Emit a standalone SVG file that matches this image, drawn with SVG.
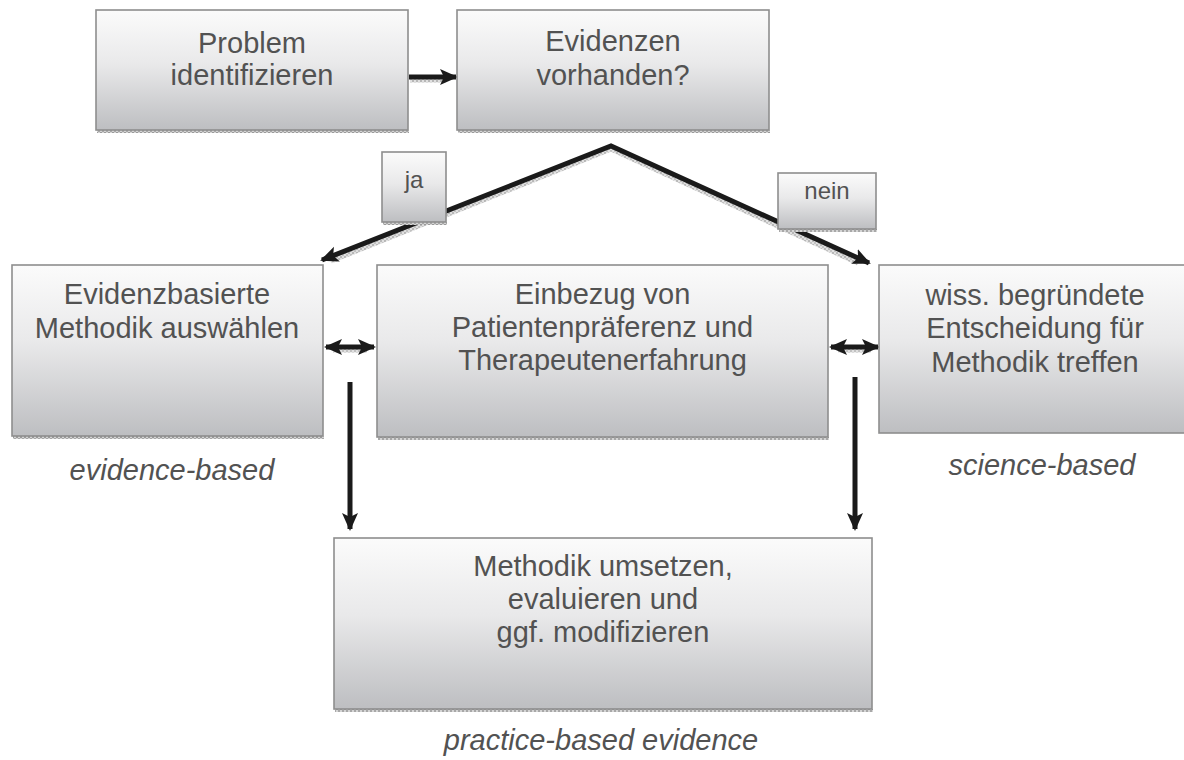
<svg xmlns="http://www.w3.org/2000/svg" width="1184" height="760" viewBox="0 0 1184 760">
  <style>
    .box { fill: url(#boxFill); stroke: #8e8e8e; stroke-width: 1.6; }
    .shadow { fill: url(#grain); }
    .t { font-family: "Liberation Sans", Arial, sans-serif; font-size: 29px; fill: #525252; text-anchor: middle; }
    .lbl { font-family: "Liberation Sans", Arial, sans-serif; font-size: 24px; fill: #525252; text-anchor: middle; }
    .it { font-family: "Liberation Sans", Arial, sans-serif; font-size: 29px; font-style: italic; fill: #525252; text-anchor: middle; }
    .edge { stroke: #1a1a1a; stroke-width: 5; fill: none; }
    .edgeShadow { stroke: url(#grain); stroke-width: 5; fill: none; }
  </style>
  <defs>
    <linearGradient id="boxFill" x1="0" y1="0" x2="0" y2="1">
      <stop offset="0" stop-color="#fbfbfb"/>
      <stop offset="0.45" stop-color="#e9e9ea"/>
      <stop offset="1" stop-color="#bdbec1"/>
    </linearGradient>
    <pattern id="grain" width="4" height="4" patternUnits="userSpaceOnUse">
      <rect width="4" height="4" fill="#d4d4d4"/>
      <rect width="2" height="2" fill="#9a9a9a"/>
      <rect x="2" y="2" width="2" height="2" fill="#a8a8a8"/>
    </pattern>
    <marker id="head" viewBox="0 0 18 18" refX="16" refY="9" markerWidth="18" markerHeight="18" markerUnits="userSpaceOnUse" orient="auto-start-reverse">
      <path d="M0,1 L18,9 L0,17 L4,9 Z" fill="#1a1a1a"/>
    </marker>
  </defs>

  <!-- connectors -->
  <g id="connectors">
    <!-- grainy shadows under the arrows -->
    <g opacity="0.7">
      <line class="edgeShadow" x1="410" y1="80" x2="446" y2="80"/>
      <polyline class="edgeShadow" points="331,261 611,149 858,263"/>
      <line class="edgeShadow" x1="333" y1="350" x2="367" y2="350"/>
      <line class="edgeShadow" x1="838" y1="350" x2="871" y2="350"/>
    </g>
    <line class="edge" x1="409" y1="77" x2="456" y2="77" marker-end="url(#head)"/>
    <polyline class="edge" points="322,260 611,146 869,263" marker-start="url(#head)" marker-end="url(#head)"/>
    <line class="edge" x1="326" y1="347" x2="374" y2="347" marker-start="url(#head)" marker-end="url(#head)"/>
    <line class="edge" x1="831" y1="347" x2="878" y2="347" marker-start="url(#head)" marker-end="url(#head)"/>
    <line class="edge" x1="350" y1="382" x2="350" y2="529" marker-end="url(#head)"/>
    <line class="edge" x1="855" y1="377" x2="855" y2="529" marker-end="url(#head)"/>
  </g>

  <!-- edge labels -->
  <g id="label-ja">
    <rect class="shadow" x="383" y="222" width="64" height="3"/>
    <rect class="box" x="382" y="152" width="64" height="70"/>
    <text class="lbl" x="414" y="188">ja</text>
  </g>
  <g id="label-nein">
    <rect class="shadow" x="779" y="229" width="98" height="3"/>
    <rect class="box" x="778" y="173" width="98" height="56"/>
    <text class="lbl" x="827" y="199">nein</text>
  </g>

  <!-- process boxes -->
  <g id="problem">
    <rect class="shadow" x="97" y="130" width="312" height="3"/>
    <rect class="box" x="96" y="10" width="312" height="120"/>
    <text class="t" x="252" y="53">Problem</text>
    <text class="t" x="252" y="85">identifizieren</text>
  </g>
  <g id="evidenzen">
    <rect class="shadow" x="458" y="130" width="312" height="3"/>
    <rect class="box" x="457" y="10" width="312" height="120"/>
    <text class="t" x="613" y="51">Evidenzen</text>
    <text class="t" x="613" y="85">vorhanden?</text>
  </g>
  <g id="evidenzbasiert">
    <rect class="shadow" x="13" y="436" width="311" height="3"/>
    <rect class="box" x="12" y="265" width="311" height="171"/>
    <text class="t" x="167" y="304">Evidenzbasierte</text>
    <text class="t" x="167" y="338">Methodik auswählen</text>
  </g>
  <g id="einbezug">
    <rect class="shadow" x="378" y="437" width="451" height="3"/>
    <rect class="box" x="377" y="265" width="451" height="172"/>
    <text class="t" x="602.5" y="304">Einbezug von</text>
    <text class="t" x="602.5" y="337">Patientenpräferenz und</text>
    <text class="t" x="602.5" y="370">Therapeutenerfahrung</text>
  </g>
  <g id="wissenschaftlich">
    <rect class="box" x="879" y="265" width="312" height="168"/>
    <text class="t" x="1035" y="305">wiss. begründete</text>
    <text class="t" x="1035" y="338">Entscheidung für</text>
    <text class="t" x="1035" y="372">Methodik treffen</text>
  </g>
  <g id="umsetzen">
    <rect class="shadow" x="335" y="709" width="538" height="3"/>
    <rect class="box" x="334" y="538" width="538" height="171"/>
    <text class="t" x="603" y="576">Methodik umsetzen,</text>
    <text class="t" x="603" y="609">evaluieren und</text>
    <text class="t" x="603" y="642">ggf. modifizieren</text>
  </g>

  <!-- captions -->
  <g id="captions">
    <text class="it" x="172" y="480">evidence-based</text>
    <text class="it" x="1042" y="475">science-based</text>
    <text class="it" x="601" y="750">practice-based evidence</text>
  </g>
</svg>
